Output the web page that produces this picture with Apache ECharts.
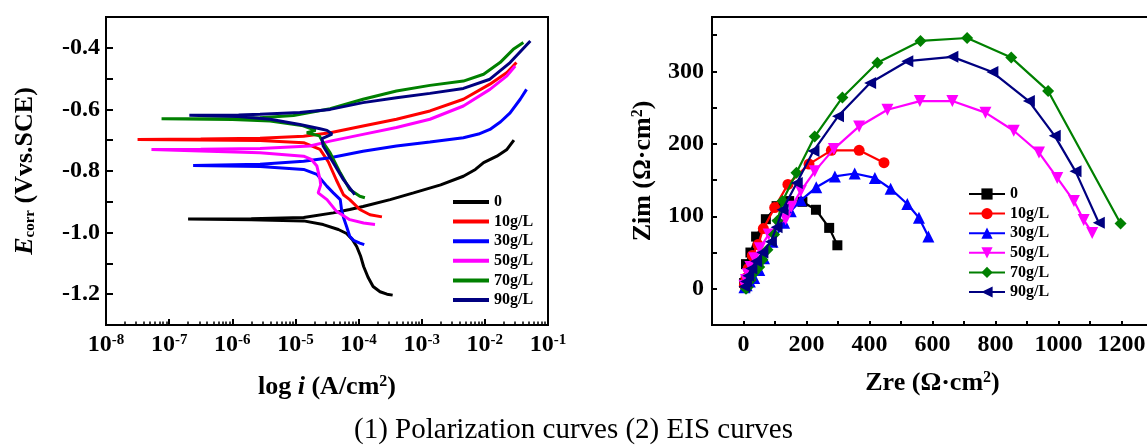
<!DOCTYPE html>
<html><head><meta charset="utf-8">
<script src="https://cdn.jsdelivr.net/npm/echarts@6/dist/echarts.min.js"></script>
<style>html,body{margin:0;padding:0;background:#fff}#c{width:1147px;height:446px}</style>
</head><body><div id="c"></div>
<script>
// ---------- Polarization curves: [log10(i / A·cm-2), E (V vs SCE)] ----------
const polNames = ['0', '10g/L', '30g/L', '50g/L', '70g/L', '90g/L'];
const polColors = ['#000000', '#ff0000', '#0000ff', '#ff00ff', '#008000', '#000080'];
const pol0 = [[-3.46,-1.203],[-3.55,-1.200],[-3.66,-1.192],[-3.77,-1.175],[-3.85,-1.145],[-3.92,-1.110],[-3.97,-1.075],[-4.03,-1.045],[-4.10,-1.022],[-4.19,-1.003],[-4.32,-0.990],[-4.56,-0.974],[-4.87,-0.962],[-5.70,-0.958],[-6.70,-0.956],[-5.70,-0.955],[-4.87,-0.951],[-4.40,-0.936],[-4.14,-0.925],[-3.93,-0.915],[-3.50,-0.893],[-3.13,-0.871],[-2.70,-0.845],[-2.34,-0.817],[-2.15,-0.795],[-2.02,-0.773],[-1.81,-0.752],[-1.65,-0.730],[-1.54,-0.700]];
const pol10 = [[-3.63,-0.949],[-3.82,-0.942],[-3.98,-0.925],[-4.14,-0.893],[-4.24,-0.877],[-4.35,-0.830],[-4.48,-0.770],[-4.61,-0.730],[-4.87,-0.708],[-5.56,-0.701],[-6.50,-0.699],[-7.50,-0.698],[-6.50,-0.696],[-5.56,-0.694],[-4.87,-0.687],[-4.45,-0.676],[-3.93,-0.654],[-3.40,-0.632],[-2.87,-0.605],[-2.34,-0.567],[-1.92,-0.518],[-1.65,-0.480],[-1.50,-0.448]];
const pol30 = [[-3.91,-1.039],[-3.98,-1.034],[-4.08,-1.025],[-4.14,-1.012],[-4.19,-0.980],[-4.24,-0.950],[-4.27,-0.925],[-4.29,-0.893],[-4.40,-0.871],[-4.50,-0.850],[-4.66,-0.811],[-4.87,-0.795],[-5.56,-0.785],[-6.62,-0.782],[-5.56,-0.778],[-4.87,-0.768],[-4.45,-0.757],[-3.93,-0.736],[-3.40,-0.719],[-2.87,-0.706],[-2.34,-0.692],[-2.10,-0.680],[-1.92,-0.665],[-1.75,-0.640],[-1.60,-0.611],[-1.44,-0.567],[-1.34,-0.535]];
const pol50 = [[-3.74,-0.974],[-3.92,-0.969],[-4.14,-0.958],[-4.35,-0.931],[-4.50,-0.893],[-4.64,-0.871],[-4.60,-0.845],[-4.61,-0.828],[-4.66,-0.784],[-4.75,-0.762],[-4.87,-0.752],[-5.56,-0.741],[-6.50,-0.735],[-7.28,-0.730],[-6.50,-0.729],[-5.56,-0.727],[-4.77,-0.719],[-4.45,-0.703],[-3.93,-0.681],[-3.40,-0.659],[-2.87,-0.632],[-2.34,-0.589],[-1.92,-0.535],[-1.65,-0.491],[-1.52,-0.459]];
const pol70 = [[-3.90,-0.887],[-3.98,-0.882],[-4.14,-0.860],[-4.29,-0.806],[-4.45,-0.741],[-4.56,-0.708],[-4.62,-0.686],[-4.82,-0.676],[-4.68,-0.668],[-4.90,-0.652],[-5.40,-0.638],[-6.00,-0.633],[-7.12,-0.630],[-6.00,-0.630],[-5.56,-0.627],[-5.03,-0.620],[-4.45,-0.598],[-3.93,-0.567],[-3.40,-0.540],[-2.87,-0.522],[-2.34,-0.508],[-2.02,-0.486],[-1.76,-0.448],[-1.55,-0.405],[-1.39,-0.383]];
const pol90 = [[-4.06,-0.877],[-4.08,-0.871],[-4.24,-0.828],[-4.40,-0.773],[-4.56,-0.719],[-4.58,-0.695],[-4.42,-0.680],[-4.50,-0.668],[-4.61,-0.663],[-4.93,-0.649],[-5.40,-0.632],[-5.90,-0.623],[-6.68,-0.619],[-5.90,-0.618],[-5.56,-0.616],[-4.93,-0.610],[-4.45,-0.600],[-3.93,-0.578],[-3.40,-0.562],[-2.87,-0.548],[-2.34,-0.532],[-1.92,-0.502],[-1.60,-0.448],[-1.28,-0.378]];
const polData = [pol0, pol10, pol30, pol50, pol70, pol90];

// ---------- EIS Nyquist: [Zre, Zim] (Ω·cm²) ----------
const eisNames = ['0 ', '10g/L ', '30g/L ', '50g/L ', '70g/L ', '90g/L '];
const eis0 = [[2,8],[8,34],[22,50],[40,72],[71,96],[105,114],[145,121],[187,120],[230,109],[272,84],[298,60]];
const eis10 = [[3,5],[8,15],[15,28],[28,46],[46,61],[63,83],[99,112],[141,144],[208,172],[279,191],[367,191],[446,174]];
const eis30 = [[3,2],[10,5],[20,10],[34,15],[50,26],[65,42],[92,65],[129,91],[150,107],[182,122],[231,140],[290,155],[353,159],[417,153],[467,138],[520,117],[557,98],[587,72]];
const eis50 = [[3,4],[8,12],[14,20],[22,30],[34,42],[52,56],[80,75],[110,88],[134,96],[152,113],[182,135],[226,162],[287,193],[367,224],[457,247],[560,259],[663,259],[768,243],[858,218],[938,188],[996,153],[1049,121],[1080,95],[1107,77]];
const eis70 = [[8,0],[13,2],[23,12],[34,22],[50,30],[60,40],[76,54],[97,75],[108,94],[124,121],[168,160],[226,210],[314,264],[425,312],[562,342],[710,346],[850,319],[967,273],[1197,90]];
const eis90 = [[3,3],[8,10],[15,18],[25,28],[40,38],[60,50],[87,65],[105,85],[124,109],[169,146],[222,190],[300,238],[402,284],[520,314],[663,320],[790,299],[906,259],[988,211],[1054,162],[1128,91]];
const eisData = [eis0, eis10, eis30, eis50, eis70, eis90];
const eisSymbols = ['rect', 'circle', 'triangle', 'triangle', 'diamond', 'triangle'];
const eisRotate = [0, 0, 0, 180, 0, 90];
const eisSizes = [10, 11, 12, 12, 12, 12];

// tick labels
const polXTicks = [-8, -7, -6, -5, -4, -3, -2, -1];
const polYLabels = [-0.4, -0.6, -0.8, -1.0, -1.2];
const eisXLabels = [0, 200, 400, 600, 800, 1000, 1200];
const eisYLabels = [0, 100, 200, 300];

const FF = 'Liberation Serif';
const minorLog = [];
for (let n = -8; n < -1; n++) for (let k = 2; k <= 9; k++) minorLog.push(n + Math.log10(k));

const chart = echarts.init(document.getElementById('c'), null, {renderer: 'canvas'});
const lbl = (size) => ({fontFamily: FF, fontWeight: 'bold', fontSize: size, color: '#000'});

const series = [];
polData.forEach((d, i) => series.push({
  name: polNames[i], type: 'line', xAxisIndex: 0, yAxisIndex: 0, data: d,
  showSymbol: false, symbol: 'none',
  lineStyle: {width: 3, color: polColors[i]},
  itemStyle: {color: polColors[i]}, z: 2 + i
}));
eisData.forEach((d, i) => series.push({
  name: eisNames[i], type: 'line', xAxisIndex: 1, yAxisIndex: 1, data: d,
  symbol: eisSymbols[i], symbolRotate: eisRotate[i], symbolSize: eisSizes[i],
  showSymbol: true, lineStyle: {width: 2.2, color: polColors[i]},
  itemStyle: {color: polColors[i]}, z: 2 + i
}));

const legendText = {fontFamily: FF, fontWeight: 'bold', fontSize: 16, color: '#000', lineHeight: 14};

chart.setOption({
  animation: false,
  backgroundColor: '#fff',
  title: {text: '(1) Polarization curves (2) EIS curves', left: 'center', top: 411,
    textStyle: {fontFamily: FF, fontSize: 29, fontWeight: 'normal', color: '#000'}},
  grid: [
    {left: 106, top: 17, width: 442, height: 308, show: true, borderColor: '#000', borderWidth: 2, containLabel: false, outerBoundsMode: 'none'},
    {left: 712, top: 17, width: 441, height: 308, show: true, borderColor: '#000', borderWidth: 2, containLabel: false, outerBoundsMode: 'none'}
  ],
  legend: [
    {data: polNames.map(n => ({name: n, icon: 'rect'})), left: 453, top: 194, orient: 'vertical',
     itemWidth: 36, itemHeight: 4, itemGap: 3.6, selectedMode: false, padding: 0, textStyle: legendText},
    {data: eisNames, left: 968, top: 186, orient: 'vertical',
     itemWidth: 36, itemHeight: 14, itemGap: 3.6, selectedMode: false, padding: 0, textStyle: legendText}
  ],
  xAxis: [
    {type: 'value', gridIndex: 0, min: -8, max: -1, interval: 1, position: 'bottom',
     name: '{n|log }{i|i}{n| (A/cm}{s|2}{n|)}', nameLocation: 'middle', nameGap: 49,
     nameTextStyle: {rich: {n: lbl(26), i: Object.assign(lbl(26), {fontStyle: 'italic'}), s: Object.assign(lbl(16), {verticalAlign: 'top'})}},
     axisLine: {onZero: false, lineStyle: {color: '#000', width: 2}},
     axisTick: {inside: true, length: 6, lineStyle: {color: '#000', width: 2}},
     splitLine: {show: false},
     axisLabel: {margin: 8, formatter: v => polXTicks.includes(v) ? '{b|10}{s|' + v + '}' : '',
       rich: {b: lbl(24), s: Object.assign(lbl(15), {verticalAlign: 'top'})}}},
    {type: 'value', gridIndex: 1, min: -100, max: 1300, interval: 100, position: 'bottom',
     name: '{n|Zre (Ω·cm}{s|2}{n|)}', nameLocation: 'middle', nameGap: 45,
     nameTextStyle: {rich: {n: lbl(26), s: Object.assign(lbl(16), {verticalAlign: 'top'})}},
     axisLine: {onZero: false, lineStyle: {color: '#000', width: 2}},
     axisTick: {inside: true, length: 4, lineStyle: {color: '#000', width: 2}},
     splitLine: {show: false},
     axisLabel: Object.assign(lbl(24), {margin: 8, formatter: v => eisXLabels.includes(v) ? String(v) : ''})},
    {type: 'value', gridIndex: 0, min: -8, max: -1, position: 'bottom',
     axisLine: {show: false, onZero: false}, axisLabel: {show: false}, splitLine: {show: false},
     axisTick: {inside: true, length: 3.5, customValues: minorLog, lineStyle: {color: '#000', width: 1.5}}}
  ],
  yAxis: [
    {type: 'value', gridIndex: 0, min: -1.3, max: -0.3, interval: 0.1,
     name: '{i|E}{sub|corr}{n| (Vvs.SCE)}', nameLocation: 'middle', nameGap: 68, nameRotate: 90,
     nameTextStyle: {rich: {n: lbl(26), i: Object.assign(lbl(26), {fontStyle: 'italic'}), sub: Object.assign(lbl(15), {verticalAlign: 'bottom'})}},
     axisLine: {onZero: false, lineStyle: {color: '#000', width: 2}},
     axisTick: {inside: true, length: 7, lineStyle: {color: '#000', width: 2}},
     splitLine: {show: false},
     axisLabel: Object.assign(lbl(24), {margin: 6, formatter: v => {
       const r = Math.round(v * 10) / 10;
       return polYLabels.some(t => Math.abs(t - r) < 1e-9) ? r.toFixed(1) : '';
     }})},
    {type: 'value', gridIndex: 1, min: -50, max: 375, interval: 50,
     name: '{n|Zim (Ω·cm}{s|2}{n|)}', nameLocation: 'middle', nameGap: 56, nameRotate: 90,
     nameTextStyle: {rich: {n: lbl(26), s: Object.assign(lbl(16), {verticalAlign: 'top'})}},
     axisLine: {onZero: false, lineStyle: {color: '#000', width: 2}},
     axisTick: {inside: true, length: 5, lineStyle: {color: '#000', width: 2}},
     splitLine: {show: false},
     axisLabel: Object.assign(lbl(24), {margin: 8, formatter: v => eisYLabels.includes(v) ? String(v) : ''})}
  ],
  series: series
});
</script></body></html>
